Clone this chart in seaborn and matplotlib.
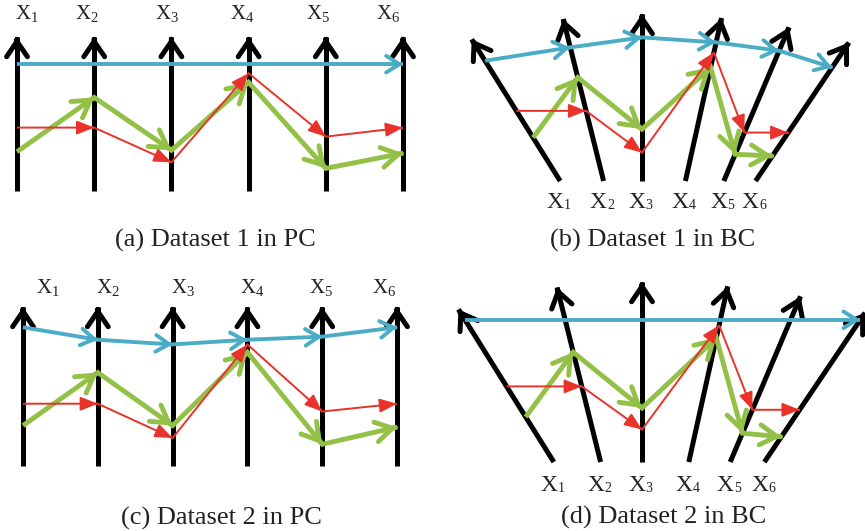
import numpy as np
import pandas as pd
import matplotlib
matplotlib.use('Agg')
import matplotlib.pyplot as plt
import seaborn as sns

# ---------------------------------------------------------------
# data: values
# ---------------------------------------------------------------
AXIS_IDS = ['1', '2', '3', '4', '5', '6']

# parallel coordinates: position along each vertical axis (0 = bottom, 1 = arrow tip)
pc1_blue  = [0.82, 0.82, 0.82, 0.82, 0.82, 0.82]
pc1_red   = [0.40, 0.40, 0.17, 0.76, 0.34, 0.40]
pc1_green = [0.24, 0.60, 0.25, 0.70, 0.13, 0.23]

pc2_blue  = [0.87, 0.79, 0.76, 0.79, 0.81, 0.87]
pc2_red   = [0.38, 0.38, 0.16, 0.76, 0.33, 0.38]
pc2_green = [0.24, 0.58, 0.24, 0.71, 0.12, 0.23]

# BC: height (in axis lengths) where each line crosses the tilted axis
bc1_blue  = [0.72, 0.80, 0.86, 0.83, 0.78, 0.68]
bc1_red   = [0.42, 0.42, 0.17, 0.77, 0.29, 0.29]
bc1_green = [0.26, 0.62, 0.31, 0.68, 0.16, 0.15]

bc2_blue  = [0.79, 0.79, 0.79, 0.79, 0.79, 0.79]
bc2_red   = [0.42, 0.42, 0.18, 0.76, 0.29, 0.29]
bc2_green = [0.25, 0.61, 0.30, 0.69, 0.16, 0.14]

# BC axis geometry: foot offset (axis lengths) and tilt from vertical (deg)
bc_foot = [-0.49, -0.23, 0.0, 0.26, 0.49, 0.68]
bc_tilt = [-32.0, -14.0, 0.0, 12.5, 23.0, 34.0]

CAPTIONS = ['(a) Dataset 1 in PC', '(b) Dataset 1 in BC',
            '(c) Dataset 2 in PC', '(d) Dataset 2 in BC']

BLUE, RED, GREEN = '#4BACC6', '#E8322A', '#93C147'

# ---------------------------------------------------------------
sns.set_theme(style='white')
plt.rcParams['font.family'] = ['Liberation Serif', 'DejaVu Serif']
plt.rcParams['mathtext.fontset'] = 'custom'
plt.rcParams['mathtext.rm'] = 'Liberation Serif'

W, H = 865, 531
fig = plt.figure(figsize=(W / 100, H / 100), dpi=100, facecolor='white')


def panel(box, ox, oy, sx, sy):
    """box in pixels (left, top, right, bottom); (ox, oy) pixel of data origin."""
    l, t, r, b = box
    ax = fig.add_axes([l / W, 1 - b / H, (r - l) / W, (b - t) / H])
    ax.set_xlim((l - ox) / sx, (r - ox) / sx)
    ax.set_ylim((oy - b) / sy, (oy - t) / sy)
    ax.axis('off')
    return ax


def merge_collinear(xs, ys):
    pts = [(xs[0], ys[0])]
    for i in range(1, len(xs)):
        if len(pts) >= 2:
            (x0, y0), (x1, y1) = pts[-2], pts[-1]
            cross = (x1 - x0) * (ys[i] - y1) - (y1 - y0) * (xs[i] - x1)
            if abs(cross) < 1e-6:
                pts[-1] = (xs[i], ys[i])
                continue
        pts.append((xs[i], ys[i]))
    return pts


def heads(ax, pts, color, lw, style, z):
    for (x0, y0), (x1, y1) in zip(pts[:-1], pts[1:]):
        sx = x1 - 0.02 * (x1 - x0)
        sy = y1 - 0.02 * (y1 - y0)
        ax.annotate('', xy=(x1, y1), xytext=(sx, sy), zorder=z,
                    arrowprops=dict(arrowstyle=style, color=color, lw=lw,
                                    mutation_scale=10, shrinkA=0, shrinkB=0))


def series(ax, xs, ys, color, lw, style, z):
    pts = merge_collinear(list(xs), list(ys))
    df = pd.DataFrame(pts, columns=['x', 'y'])
    sns.lineplot(data=df, x='x', y='y', sort=False, estimator=None,
                 color=color, lw=lw, ax=ax, zorder=z,
                 solid_capstyle='butt', solid_joinstyle='miter')
    heads(ax, pts, color, lw, style, z + 0.1)


def draw_axes(ax, feet, tops):
    rows = []
    for k, ((fx, fy), (tx, ty)) in enumerate(zip(feet, tops)):
        rows += [(k, fx, fy), (k, tx, ty)]
    df = pd.DataFrame(rows, columns=['axis', 'x', 'y'])
    sns.lineplot(data=df, x='x', y='y', units='axis', estimator=None, sort=False,
                 color='black', lw=3.6, ax=ax, zorder=1, solid_capstyle='butt')
    for (fx, fy), (tx, ty) in zip(feet, tops):
        ax.annotate('', xy=(tx, ty), xytext=(fx + 0.98 * (tx - fx), fy + 0.98 * (ty - fy)),
                    zorder=1.1,
                    arrowprops=dict(arrowstyle='->,head_length=1.1,head_width=0.75',
                                    color='black', lw=3.6, mutation_scale=10,
                                    shrinkA=0, shrinkB=0))


RED_STYLE = '-|>,head_length=1.05,head_width=0.42'
GREEN_STYLE = '->,head_length=1.2,head_width=0.72'
BLUE_STYLE = '->,head_length=0.95,head_width=0.6'


def pc_panel(box, ox, oy, sx, sy, blue, red, green, lab_off, lab_y):
    ax = panel(box, ox, oy, sx, sy)
    idx = np.arange(len(AXIS_IDS))
    draw_axes(ax, [(i, -0.02) for i in idx], [(i, 1.0) for i in idx])
    series(ax, idx, green, GREEN, 3.5, GREEN_STYLE, 2)
    series(ax, idx, red, RED, 1.4, RED_STYLE, 3)
    series(ax, idx, blue, BLUE, 2.8, BLUE_STYLE, 4)
    for i, name in enumerate(AXIS_IDS):
        ax.text(i + lab_off[i], lab_y, r'$\mathrm{X}_{%s}$' % name, ha='center',
                va='center', fontsize=15, color='#222222')
    return ax


def bc_point(k, h):
    return bc_foot[k] + h * np.tan(np.radians(bc_tilt[k])), h


def bc_panel(box, ox, oy, s, blue, red, green):
    ax = panel(box, ox, oy, s, s)
    feet = [(f, 0.0) for f in bc_foot]
    tops = [(f + np.sin(np.radians(t)), np.cos(np.radians(t)))
            for f, t in zip(bc_foot, bc_tilt)]
    draw_axes(ax, feet, tops)
    for vals, col, lw, st, z in [(green, GREEN, 3.5, GREEN_STYLE, 2),
                                 (red, RED, 1.4, RED_STYLE, 3),
                                 (blue, BLUE, 2.8, BLUE_STYLE, 4)]:
        p = [bc_point(k, h) for k, h in enumerate(vals)]
        series(ax, [q[0] for q in p], [q[1] for q in p], col, lw, st, z)
    for k, name in enumerate(AXIS_IDS):
        x = bc_foot[k] + 0.02
        ax.text(x, -0.13, 'X', ha='right', va='center', fontsize=17, color='#222222')
        ax.text(x, -0.145, name, ha='left', va='center', fontsize=10, color='#222222')
    return ax


# (a) and (c): parallel coordinates
pc_panel((0, 0, 430, 215), 17, 188, 77.2, 151, pc1_blue, pc1_red, pc1_green,
         [0.13, -0.09, -0.06, -0.08, -0.10, -0.19], 1.15)
pc_panel((0, 272, 430, 490), 23, 463, 74.8, 156, pc2_blue, pc2_red, pc2_green,
         [0.33, 0.14, 0.14, 0.07, -0.02, -0.17], 1.12)

# (b) and (d): tilted axes
bc_panel((432, 0, 865, 222), 642, 181, 167, bc1_blue, bc1_red, bc1_green)
bc_panel((432, 262, 865, 498), 642, 462, 180, bc2_blue, bc2_red, bc2_green)

for (cx, cy), cap in zip([(215, 240), (653, 240), (221, 518), (664, 517)], CAPTIONS):
    fig.text(cx / W, 1 - cy / H, cap, ha='center', va='center', fontsize=19,
             color='#222222')

fig.savefig('out.png', dpi=100, facecolor='white')
